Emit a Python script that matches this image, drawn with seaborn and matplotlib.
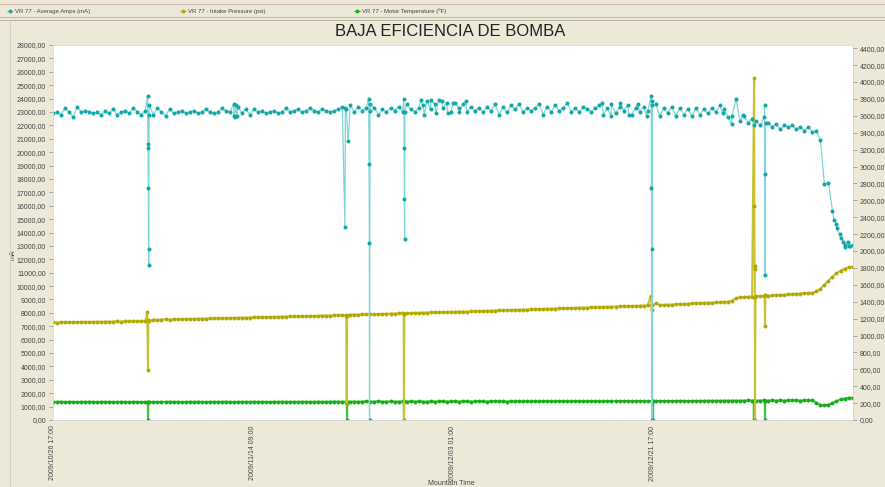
import numpy as np
import pandas as pd
import matplotlib
matplotlib.use("Agg")
import matplotlib.pyplot as plt
import seaborn as sns

# ---------------- data ----------------
START = pd.Timestamp("2009-10-26 17:00")
SAMPLE_STEP_H = 9  # regular log interval (hours)

amps_base = [
    22900, 23000, 22800, 23300, 23000, 22600, 23400, 23000, 23100, 23000,
    22900, 23000, 22800, 23100, 22900, 23200, 22800, 23000, 23100, 22900,
    23300, 23000, 22800, 23100, 23500, 22800, 23300, 23000, 22700, 23200,
    22900, 23000, 23100, 22900, 23000, 23100, 22900, 23000, 23200, 23000,
    22900, 23000, 23300, 23100, 23000, 22700, 23400, 22900, 23200, 22800,
    23200, 23000, 23100, 22900, 23000, 23100, 22900, 23000, 23300, 23000,
    23100, 23200, 23000, 23100, 23300, 23100, 23000, 23200, 23100, 23000,
    23100, 23200, 23400, 23200, 23500, 23000, 23400, 23100, 23300, 23600,
    23300, 22800, 23200, 23000, 23300, 23100, 23400, 23000, 23600, 23200,
    23000, 23300, 23500, 23800, 23200, 23600, 23900, 23300, 23700, 23000,
    23700, 23300, 23600, 23000, 23400, 23100, 23300, 23000, 23400, 23100,
    23600, 22800, 23400, 23000, 23500, 23200, 23600, 23000, 23300, 23100,
    23300, 23600, 22800, 23400, 23000, 23500, 23100, 23300, 23700, 23000,
    23300, 23000, 23400, 23200, 23000, 23300, 23500, 22800, 23300, 23600,
    22900, 23400, 23100, 23500, 22800, 23300, 23000, 23400, 23100, 23800,
    23600, 22700, 23300, 22900, 23400, 22700, 23300, 22800, 23200, 22700,
    23300, 22800, 23200, 22900, 23300, 23000, 23500, 23200, 22600, 22700,
    24000, 22300, 22700, 22200, 22500, 22300, 22000, 22600, 22200, 21900,
    22100, 21700, 22000, 21900, 22000, 21700, 21900, 21600, 21900, 21500,
    21600, 20900, 17600, 17700, 15600, 14600, 13600, 13100, 13000, 13100,
]
# extra logged readings (shutdown dips and dense clusters): hours, value
amps_extra_h = [212, 212.5, 213, 213.5, 214, 214.5, 215,
                405, 407, 409, 412,
                654, 655, 661,
                707, 708, 708.5, 709, 710,
                786, 786.5, 787, 787.5, 788,
                825, 832, 846, 858, 871, 884, 897, 910, 925,
                1230, 1250, 1270, 1290, 1310, 1330,
                1340, 1340.5, 1341, 1341.5, 1342,
                1500, 1520, 1545, 1570,
                1594, 1594.5, 1595, 1596,
                1750, 1756, 1762, 1770, 1775, 1780, 1786]
amps_extra_v = [24200, 20600, 20300, 17300, 12800, 11600, 22800,
                23600, 22600, 23500, 22700,
                14400, 23300, 20800,
                24000, 19100, 13200, 0, 23100,
                24000, 20300, 16500, 13500, 23000,
                23900, 22800, 23900, 22900, 23800, 22900, 23700, 23000, 23800,
                23700, 22700, 23700, 22800, 23600, 22700,
                24200, 17300, 12800, 0, 23500,
                22900, 22100, 22800, 22000,
                23500, 18400, 10800, 22200,
                14900, 14300, 13900, 13300, 12900, 13300, 13000]

pressure_base = [
    7300, 7280, 7300, 7320, 7300, 7310, 7300, 7320, 7330, 7320,
    7330, 7340, 7320, 7350, 7340, 7350, 7360, 7350, 7370, 7360,
    7370, 7380, 7370, 7390, 7420, 7500, 7480, 7500, 7510, 7500,
    7520, 7520, 7530, 7540, 7540, 7550, 7560, 7560, 7570, 7580,
    7580, 7590, 7600, 7600, 7610, 7620, 7630, 7640, 7640, 7650,
    7660, 7660, 7670, 7680, 7690, 7700, 7700, 7710, 7720, 7730,
    7730, 7740, 7750, 7760, 7760, 7770, 7780, 7790, 7790, 7800,
    7810, 7820, 7830, 7850, 7870, 7860, 7870, 7880, 7890, 7900,
    7900, 7910, 7920, 7930, 7940, 7950, 7960, 8000, 7980, 7990,
    8000, 8000, 8010, 8020, 8030, 8040, 8050, 8050, 8060, 8070,
    8080, 8090, 8100, 8100, 8110, 8120, 8130, 8140, 8150, 8160,
    8170, 8180, 8190, 8200, 8210, 8220, 8230, 8240, 8250, 8260,
    8270, 8280, 8290, 8300, 8310, 8320, 8330, 8340, 8350, 8360,
    8370, 8380, 8390, 8400, 8410, 8420, 8430, 8440, 8450, 8460,
    8470, 8480, 8490, 8500, 8510, 8520, 8530, 8540, 8550, 8560,
    8700, 8600, 8600, 8610, 8620, 8640, 8650, 8670, 8680, 8700,
    8710, 8730, 8740, 8760, 8770, 8790, 8800, 8820, 8830, 8900,
    9100, 9150, 9180, 9200, 9220, 9240, 9250, 9270, 9280, 9300,
    9320, 9340, 9360, 9380, 9400, 9420, 9440, 9460, 9480, 9500,
    9600, 9800, 10100, 10400, 10700, 10950, 11150, 11300, 11400, 11450,
]
pressure_extra_h = [211, 212.8, 213.6, 657, 658, 659, 785.5, 786.2, 787,
                    1339, 1341, 1342.5, 1570.5, 1571, 1571.5, 1572, 1572.5, 1573.5,
                    1594.2, 1594.9, 1595.6]
pressure_extra_v = [8050, 3700, 7500, 7800, 1200, 7800, 7950, 0, 7950,
                    9250, 8200, 8600, 25500, 16000, 11500, 11300, 0, 9200,
                    9300, 7000, 9300]

temp_base = [
    1360, 1350, 1370, 1340, 1360, 1350, 1340, 1360, 1350, 1370,
    1350, 1340, 1360, 1350, 1360, 1340, 1350, 1360, 1350, 1340,
    1360, 1350, 1340, 1350, 1360, 1350, 1340, 1360, 1350, 1370,
    1350, 1360, 1340, 1350, 1360, 1350, 1370, 1350, 1340, 1360,
    1350, 1360, 1350, 1370, 1350, 1340, 1360, 1350, 1360, 1350,
    1370, 1350, 1360, 1350, 1340, 1360, 1350, 1370, 1360, 1350,
    1360, 1350, 1370, 1360, 1350, 1360, 1370, 1350, 1360, 1370,
    1380, 1370, 1360, 1380, 1370, 1380, 1370, 1380, 1390, 1370,
    1380, 1390, 1370, 1380, 1390, 1380, 1370, 1390, 1380, 1390,
    1380, 1390, 1380, 1370, 1390, 1380, 1390, 1400, 1380, 1390,
    1390, 1380, 1400, 1390, 1380, 1390, 1400, 1390, 1380, 1400,
    1390, 1400, 1390, 1380, 1400, 1390, 1400, 1390, 1400, 1390,
    1400, 1390, 1400, 1410, 1390, 1400, 1410, 1400, 1390, 1400,
    1410, 1400, 1390, 1410, 1400, 1410, 1400, 1390, 1410, 1400,
    1410, 1400, 1420, 1410, 1400, 1410, 1420, 1410, 1400, 1420,
    1410, 1420, 1410, 1420, 1410, 1420, 1430, 1420, 1410, 1420,
    1430, 1420, 1430, 1440, 1430, 1440, 1430, 1440, 1450, 1440,
    1450, 1440, 1450, 1460, 1450, 1440, 1450, 1460, 1450, 1460,
    1450, 1460, 1450, 1460, 1470, 1460, 1450, 1460, 1470, 1460,
    1300, 1120, 1100, 1150, 1250, 1400, 1550, 1600, 1650, 1660,
]
temp_extra_h = [212.2, 212.9, 213.6, 658, 658.6, 659.2, 785.6, 786.2, 786.8,
                1343.4, 1344, 1344.6, 1569.4, 1570, 1570.6, 1594.3, 1594.9, 1595.5]
temp_extra_v = [1350, 0, 1350, 1380, 0, 1380, 1390, 0, 1390,
                1420, 0, 1420, 1450, 0, 1450, 1450, 0, 1450]

series_names = ["VR 77 - Average Amps (mA)", "VR 77 - Intake Pressure (psi)",
                "VR 77 - Motor Temperature (ºF)"]
tick_hours = [0, 448, 896, 1344]
x_end_hours = 1792


def build(base, extra_h, extra_v):
    h = list(np.arange(len(base)) * SAMPLE_STEP_H) + list(extra_h)
    v = list(base) + list(extra_v)
    df = pd.DataFrame({"h": h, "v": v}).sort_values("h")
    df["t"] = START + pd.to_timedelta(df["h"], unit="h")
    return df


amps = build(amps_base, amps_extra_h, amps_extra_v)
press = build(pressure_base, pressure_extra_h, pressure_extra_v)
temp = build(temp_base, temp_extra_h, temp_extra_v)

# ---------------- style ----------------
BG = "#ECE9D8"
TEAL_L, TEAL_M = "#7fd6d6", "#13a8a8"
YEL_L, YEL_M = "#c8c232", "#b0aa00"
GRN_L, GRN_M = "#40c440", "#16ad16"
TXT = "#444444"

sns.set_theme(style="white")
plt.rcParams["font.family"] = ["Liberation Sans", "DejaVu Sans"]

fig = plt.figure(figsize=(8.85, 4.87), dpi=100, facecolor=BG)
ax = fig.add_axes([53 / 885, 1 - 420 / 487, 800 / 885, 375 / 487])
ax.set_facecolor("white")

for df, lc, mc, lw, ms in [(temp, GRN_L, GRN_M, 1.5, 2.8),
                           (press, YEL_L, YEL_M, 1.5, 2.8),
                           (amps, TEAL_L, TEAL_M, 0.9, 2.9)]:
    sns.lineplot(data=df, x="t", y="v", color=lc, markerfacecolor=mc, estimator=None,
                 sort=False, ax=ax, legend=False, marker="o", markersize=ms,
                 markeredgewidth=0, linewidth=lw)

ax.set_ylim(0, 28000)
ax.set_xlim(START, START + pd.Timedelta(hours=x_end_hours))
ax.set_yticks(np.arange(0, 28001, 1000))
ax.set_yticklabels([f"{v:.2f}".replace(".", ",") for v in np.arange(0, 28001, 1000)])
ticks = [START + pd.Timedelta(hours=h) for h in tick_hours]
ax.set_xticks(ticks)
ax.set_xticklabels([t.strftime("%Y/%m/%d %H:%M") for t in ticks])
minor = [START + pd.Timedelta(hours=h) for h in np.arange(0, x_end_hours + 1, 89.6)]
ax.set_xticks(minor, minor=True)
ax.tick_params(axis="x", which="major", labelrotation=90, labelsize=5, colors="#999999",
               labelcolor=TXT, length=4, width=0.6, direction="inout", pad=2)
ax.tick_params(axis="x", which="minor", length=3, width=0.5, colors="#bbbbbb", direction="in")
ax.tick_params(axis="y", labelsize=5, colors="#999999", labelcolor=TXT, length=3,
               width=0.6, direction="out", pad=2)
ax.set_xlabel("Mountain Time", fontsize=5, color=TXT, labelpad=4)
ax.xaxis.set_label_coords(0.4975, -0.16)
ax.set_ylabel("mA", fontsize=5, color=TXT)
ax.yaxis.set_label_coords(-0.045, 0.44)
for s in ax.spines.values():
    s.set_color("#d8d8d8")
    s.set_linewidth(0.6)

ax2 = ax.twinx()
ax2.set_ylim(0, 4438)
rt = np.arange(0, 4401, 200)
ax2.set_yticks(rt)
ax2.set_yticklabels([f"{v:.2f}".replace(".", ",") for v in rt])
ax2.tick_params(axis="y", labelsize=5, colors="#999999", labelcolor=TXT, length=3,
                width=0.6, direction="out", pad=2)
ax2.grid(False)
for s in ax2.spines.values():
    s.set_visible(False)

fig.text(0.5085, 1 - 31 / 487, "BAJA EFICIENCIA DE BOMBA", ha="center", va="center",
         fontsize=12, color="#222222")

# legend bar
fig.add_artist(plt.Line2D([0, 1], [1 - 4 / 487] * 2, color="#d8b8b0", lw=0.8))
fig.add_artist(plt.Line2D([0, 1], [1 - 17 / 487] * 2, color="#c9b9a8", lw=0.8))
fig.add_artist(plt.Line2D([0, 1], [1 - 20 / 487] * 2, color="#b0a898", lw=0.6))
fig.add_artist(plt.Line2D([10 / 885] * 2, [0, 1 - 20 / 487], color="#d6d2c0", lw=0.8))
for xm, name, lc, mc in [(10, series_names[0], TEAL_L, TEAL_M),
                         (183, series_names[1], YEL_L, YEL_M),
                         (357, series_names[2], GRN_L, GRN_M)]:
    fig.add_artist(plt.Line2D([(xm - 3) / 885, (xm + 3) / 885], [1 - 11 / 487] * 2,
                              color=lc, lw=0.8))
    fig.add_artist(plt.Line2D([xm / 885], [1 - 11 / 487], color=mc, lw=0,
                              marker="o", markersize=2.8, markeredgewidth=0))
    fig.text((xm + 5) / 885, 1 - 11 / 487, name, fontsize=4.3, color=TXT, va="center")

fig.savefig("out.png", dpi=100, facecolor=BG)
